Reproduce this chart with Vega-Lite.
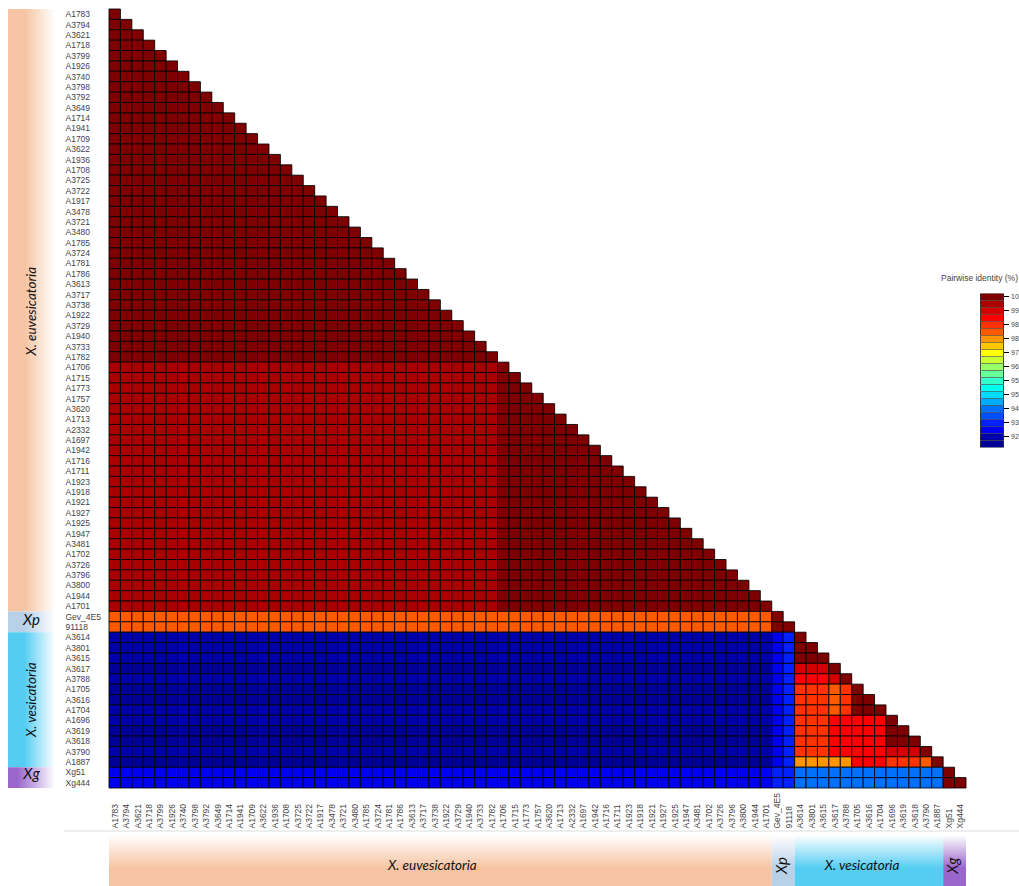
{"$schema":"https://vega.github.io/schema/vega-lite/v6.json","width":857,"height":779,"autosize":{"type":"none"},"padding":{"left":109,"top":9,"right":53,"bottom":98},"background":"white","config":{"view":{"stroke":null},"text":{"font":"Lato"}},
"datasets":{"rows":[
{"i":1,"y":"A1783","v":[100]},
{"i":2,"y":"A3794","v":[100,100]},
{"i":3,"y":"A3621","v":[100,100,100]},
{"i":4,"y":"A1718","v":[100,100,100,100]},
{"i":5,"y":"A3799","v":[100,100,100,100,100]},
{"i":6,"y":"A1926","v":[100,100,100,100,100,100]},
{"i":7,"y":"A3740","v":[100,100,100,100,100,100,100]},
{"i":8,"y":"A3798","v":[100,100,100,100,100,100,100,100]},
{"i":9,"y":"A3792","v":[100,100,100,100,100,100,100,100,100]},
{"i":10,"y":"A3649","v":[100,100,100,100,100,100,100,100,100,100]},
{"i":11,"y":"A1714","v":[100,100,100,100,100,100,100,100,100,100,100]},
{"i":12,"y":"A1941","v":[100,100,100,100,100,100,100,100,100,100,100,100]},
{"i":13,"y":"A1709","v":[100,100,100,100,100,100,100,100,100,100,100,100,100]},
{"i":14,"y":"A3622","v":[100,100,100,100,100,100,100,100,100,100,100,100,100,100]},
{"i":15,"y":"A1936","v":[100,100,100,100,100,100,100,100,100,100,100,100,100,100,100]},
{"i":16,"y":"A1708","v":[100,100,100,100,100,100,100,100,100,100,100,100,100,100,100,100]},
{"i":17,"y":"A3725","v":[100,100,100,100,100,100,100,100,100,100,100,100,100,100,100,100,100]},
{"i":18,"y":"A3722","v":[100,100,100,100,100,100,100,100,100,100,100,100,100,100,100,100,100,100]},
{"i":19,"y":"A1917","v":[100,100,100,100,100,100,100,100,100,100,100,100,100,100,100,100,100,100,100]},
{"i":20,"y":"A3478","v":[100,100,100,100,100,100,100,100,100,100,100,100,100,100,100,100,100,100,100,100]},
{"i":21,"y":"A3721","v":[100,100,100,100,100,100,100,100,100,100,100,100,100,100,100,100,100,100,100,100,100]},
{"i":22,"y":"A3480","v":[100,100,100,100,100,100,100,100,100,100,100,100,100,100,100,100,100,100,100,100,100,100]},
{"i":23,"y":"A1785","v":[100,100,100,100,100,100,100,100,100,100,100,100,100,100,100,100,100,100,100,100,100,100,100]},
{"i":24,"y":"A3724","v":[100,100,100,100,100,100,100,100,100,100,100,100,100,100,100,100,100,100,100,100,100,100,100,100]},
{"i":25,"y":"A1781","v":[100,100,100,100,100,100,100,100,100,100,100,100,100,100,100,100,100,100,100,100,100,100,100,100,100]},
{"i":26,"y":"A1786","v":[100,100,100,100,100,100,100,100,100,100,100,100,100,100,100,100,100,100,100,100,100,100,100,100,100,100]},
{"i":27,"y":"A3613","v":[100,100,100,100,100,100,100,100,100,100,100,100,100,100,100,100,100,100,100,100,100,100,100,100,100,100,100]},
{"i":28,"y":"A3717","v":[100,100,100,100,100,100,100,100,100,100,100,100,100,100,100,100,100,100,100,100,100,100,100,100,100,100,100,100]},
{"i":29,"y":"A3738","v":[100,100,100,100,100,100,100,100,100,100,100,100,100,100,100,100,100,100,100,100,100,100,100,100,100,100,100,100,100]},
{"i":30,"y":"A1922","v":[100,100,100,100,100,100,100,100,100,100,100,100,100,100,100,100,100,100,100,100,100,100,100,100,100,100,100,100,100,100]},
{"i":31,"y":"A3729","v":[100,100,100,100,100,100,100,100,100,100,100,100,100,100,100,100,100,100,100,100,100,100,100,100,100,100,100,100,100,100,100]},
{"i":32,"y":"A1940","v":[100,100,100,100,100,100,100,100,100,100,100,100,100,100,100,100,100,100,100,100,100,100,100,100,100,100,100,100,100,100,100,100]},
{"i":33,"y":"A3733","v":[100,100,100,100,100,100,100,100,100,100,100,100,100,100,100,100,100,100,100,100,100,100,100,100,100,100,100,100,100,100,100,100,100]},
{"i":34,"y":"A1782","v":[100,100,100,100,100,100,100,100,100,100,100,100,100,100,100,100,100,100,100,100,100,100,100,100,100,100,100,100,100,100,100,100,100,100]},
{"i":35,"y":"A1706","v":[99.6,99.6,99.6,99.6,99.6,99.6,99.6,99.6,99.6,99.6,99.6,99.6,99.6,99.6,99.6,99.6,99.6,99.6,99.6,99.6,99.6,99.6,99.6,99.6,99.6,99.6,99.6,99.6,99.6,99.6,99.6,99.6,99.6,99.6,100]},
{"i":36,"y":"A1715","v":[99.6,99.6,99.6,99.6,99.6,99.6,99.6,99.6,99.6,99.6,99.6,99.6,99.6,99.6,99.6,99.6,99.6,99.6,99.6,99.6,99.6,99.6,99.6,99.6,99.6,99.6,99.6,99.6,99.6,99.6,99.6,99.6,99.6,99.6,100,100]},
{"i":37,"y":"A1773","v":[99.6,99.6,99.6,99.6,99.6,99.6,99.6,99.6,99.6,99.6,99.6,99.6,99.6,99.6,99.6,99.6,99.6,99.6,99.6,99.6,99.6,99.6,99.6,99.6,99.6,99.6,99.6,99.6,99.6,99.6,99.6,99.6,99.6,99.6,100,100,100]},
{"i":38,"y":"A1757","v":[99.6,99.6,99.6,99.6,99.6,99.6,99.6,99.6,99.6,99.6,99.6,99.6,99.6,99.6,99.6,99.6,99.6,99.6,99.6,99.6,99.6,99.6,99.6,99.6,99.6,99.6,99.6,99.6,99.6,99.6,99.6,99.6,99.6,99.6,100,100,100,100]},
{"i":39,"y":"A3620","v":[99.6,99.6,99.6,99.6,99.6,99.6,99.6,99.6,99.6,99.6,99.6,99.6,99.6,99.6,99.6,99.6,99.6,99.6,99.6,99.6,99.6,99.6,99.6,99.6,99.6,99.6,99.6,99.6,99.6,99.6,99.6,99.6,99.6,99.6,100,100,100,100,100]},
{"i":40,"y":"A1713","v":[99.6,99.6,99.6,99.6,99.6,99.6,99.6,99.6,99.6,99.6,99.6,99.6,99.6,99.6,99.6,99.6,99.6,99.6,99.6,99.6,99.6,99.6,99.6,99.6,99.6,99.6,99.6,99.6,99.6,99.6,99.6,99.6,99.6,99.6,100,100,100,100,100,100]},
{"i":41,"y":"A2332","v":[99.6,99.6,99.6,99.6,99.6,99.6,99.6,99.6,99.6,99.6,99.6,99.6,99.6,99.6,99.6,99.6,99.6,99.6,99.6,99.6,99.6,99.6,99.6,99.6,99.6,99.6,99.6,99.6,99.6,99.6,99.6,99.6,99.6,99.6,100,100,100,100,100,100,100]},
{"i":42,"y":"A1697","v":[99.6,99.6,99.6,99.6,99.6,99.6,99.6,99.6,99.6,99.6,99.6,99.6,99.6,99.6,99.6,99.6,99.6,99.6,99.6,99.6,99.6,99.6,99.6,99.6,99.6,99.6,99.6,99.6,99.6,99.6,99.6,99.6,99.6,99.6,100,100,100,100,100,100,100,100]},
{"i":43,"y":"A1942","v":[99.6,99.6,99.6,99.6,99.6,99.6,99.6,99.6,99.6,99.6,99.6,99.6,99.6,99.6,99.6,99.6,99.6,99.6,99.6,99.6,99.6,99.6,99.6,99.6,99.6,99.6,99.6,99.6,99.6,99.6,99.6,99.6,99.6,99.6,100,100,100,100,100,100,100,100,100]},
{"i":44,"y":"A1716","v":[99.6,99.6,99.6,99.6,99.6,99.6,99.6,99.6,99.6,99.6,99.6,99.6,99.6,99.6,99.6,99.6,99.6,99.6,99.6,99.6,99.6,99.6,99.6,99.6,99.6,99.6,99.6,99.6,99.6,99.6,99.6,99.6,99.6,99.6,100,100,100,100,100,100,100,100,100,100]},
{"i":45,"y":"A1711","v":[99.6,99.6,99.6,99.6,99.6,99.6,99.6,99.6,99.6,99.6,99.6,99.6,99.6,99.6,99.6,99.6,99.6,99.6,99.6,99.6,99.6,99.6,99.6,99.6,99.6,99.6,99.6,99.6,99.6,99.6,99.6,99.6,99.6,99.6,100,100,100,100,100,100,100,100,100,100,100]},
{"i":46,"y":"A1923","v":[99.6,99.6,99.6,99.6,99.6,99.6,99.6,99.6,99.6,99.6,99.6,99.6,99.6,99.6,99.6,99.6,99.6,99.6,99.6,99.6,99.6,99.6,99.6,99.6,99.6,99.6,99.6,99.6,99.6,99.6,99.6,99.6,99.6,99.6,100,100,100,100,100,100,100,100,100,100,100,100]},
{"i":47,"y":"A1918","v":[99.6,99.6,99.6,99.6,99.6,99.6,99.6,99.6,99.6,99.6,99.6,99.6,99.6,99.6,99.6,99.6,99.6,99.6,99.6,99.6,99.6,99.6,99.6,99.6,99.6,99.6,99.6,99.6,99.6,99.6,99.6,99.6,99.6,99.6,100,100,100,100,100,100,100,100,100,100,100,100,100]},
{"i":48,"y":"A1921","v":[99.6,99.6,99.6,99.6,99.6,99.6,99.6,99.6,99.6,99.6,99.6,99.6,99.6,99.6,99.6,99.6,99.6,99.6,99.6,99.6,99.6,99.6,99.6,99.6,99.6,99.6,99.6,99.6,99.6,99.6,99.6,99.6,99.6,99.6,100,100,100,100,100,100,100,100,100,100,100,100,100,100]},
{"i":49,"y":"A1927","v":[99.6,99.6,99.6,99.6,99.6,99.6,99.6,99.6,99.6,99.6,99.6,99.6,99.6,99.6,99.6,99.6,99.6,99.6,99.6,99.6,99.6,99.6,99.6,99.6,99.6,99.6,99.6,99.6,99.6,99.6,99.6,99.6,99.6,99.6,100,100,100,100,100,100,100,100,100,100,100,100,100,100,100]},
{"i":50,"y":"A1925","v":[99.6,99.6,99.6,99.6,99.6,99.6,99.6,99.6,99.6,99.6,99.6,99.6,99.6,99.6,99.6,99.6,99.6,99.6,99.6,99.6,99.6,99.6,99.6,99.6,99.6,99.6,99.6,99.6,99.6,99.6,99.6,99.6,99.6,99.6,100,100,100,100,100,100,100,100,100,100,100,100,100,100,100,100]},
{"i":51,"y":"A1947","v":[99.6,99.6,99.6,99.6,99.6,99.6,99.6,99.6,99.6,99.6,99.6,99.6,99.6,99.6,99.6,99.6,99.6,99.6,99.6,99.6,99.6,99.6,99.6,99.6,99.6,99.6,99.6,99.6,99.6,99.6,99.6,99.6,99.6,99.6,100,100,100,100,100,100,100,100,100,100,100,100,100,100,100,100,100]},
{"i":52,"y":"A3481","v":[99.6,99.6,99.6,99.6,99.6,99.6,99.6,99.6,99.6,99.6,99.6,99.6,99.6,99.6,99.6,99.6,99.6,99.6,99.6,99.6,99.6,99.6,99.6,99.6,99.6,99.6,99.6,99.6,99.6,99.6,99.6,99.6,99.6,99.6,100,100,100,100,100,100,100,100,100,100,100,100,100,100,100,100,100,100]},
{"i":53,"y":"A1702","v":[99.6,99.6,99.6,99.6,99.6,99.6,99.6,99.6,99.6,99.6,99.6,99.6,99.6,99.6,99.6,99.6,99.6,99.6,99.6,99.6,99.6,99.6,99.6,99.6,99.6,99.6,99.6,99.6,99.6,99.6,99.6,99.6,99.6,99.6,100,100,100,100,100,100,100,100,100,100,100,100,100,100,100,100,100,100,100]},
{"i":54,"y":"A3726","v":[99.6,99.6,99.6,99.6,99.6,99.6,99.6,99.6,99.6,99.6,99.6,99.6,99.6,99.6,99.6,99.6,99.6,99.6,99.6,99.6,99.6,99.6,99.6,99.6,99.6,99.6,99.6,99.6,99.6,99.6,99.6,99.6,99.6,99.6,100,100,100,100,100,100,100,100,100,100,100,100,100,100,100,100,100,100,100,100]},
{"i":55,"y":"A3796","v":[99.6,99.6,99.6,99.6,99.6,99.6,99.6,99.6,99.6,99.6,99.6,99.6,99.6,99.6,99.6,99.6,99.6,99.6,99.6,99.6,99.6,99.6,99.6,99.6,99.6,99.6,99.6,99.6,99.6,99.6,99.6,99.6,99.6,99.6,100,100,100,100,100,100,100,100,100,100,100,100,100,100,100,100,100,100,100,100,100]},
{"i":56,"y":"A3800","v":[99.6,99.6,99.6,99.6,99.6,99.6,99.6,99.6,99.6,99.6,99.6,99.6,99.6,99.6,99.6,99.6,99.6,99.6,99.6,99.6,99.6,99.6,99.6,99.6,99.6,99.6,99.6,99.6,99.6,99.6,99.6,99.6,99.6,99.6,100,100,100,100,100,100,100,100,100,100,100,100,100,100,100,100,100,100,100,100,100,100]},
{"i":57,"y":"A1944","v":[99.6,99.6,99.6,99.6,99.6,99.6,99.6,99.6,99.6,99.6,99.6,99.6,99.6,99.6,99.6,99.6,99.6,99.6,99.6,99.6,99.6,99.6,99.6,99.6,99.6,99.6,99.6,99.6,99.6,99.6,99.6,99.6,99.6,99.6,100,100,100,100,100,100,100,100,100,100,100,100,100,100,100,100,100,100,100,100,100,100,100]},
{"i":58,"y":"A1701","v":[99.6,99.6,99.6,99.6,99.6,99.6,99.6,99.6,99.6,99.6,99.6,99.6,99.6,99.6,99.6,99.6,99.6,99.6,99.6,99.6,99.6,99.6,99.6,99.6,99.6,99.6,99.6,99.6,99.6,99.6,99.6,99.6,99.6,99.6,100,100,100,100,100,100,100,100,100,100,100,100,100,100,100,100,100,100,100,100,100,100,100,100]},
{"i":59,"y":"Gev_4E5","v":[98,98,98,98,98,98,98,98,98,98,98,98,98,98,98,98,98,98,98,98,98,98,98,98,98,98,98,98,98,98,98,98,98,98,98,98,98,98,98,98,98,98,98,98,98,98,98,98,98,98,98,98,98,98,98,98,98,98,100]},
{"i":60,"y":"91118","v":[98,98,98,98,98,98,98,98,98,98,98,98,98,98,98,98,98,98,98,98,98,98,98,98,98,98,98,98,98,98,98,98,98,98,98,98,98,98,98,98,98,98,98,98,98,98,98,98,98,98,98,98,98,98,98,98,98,98,100,100]},
{"i":61,"y":"A3614","v":[92.2,92.2,92.2,92.2,92.2,92.2,92.2,92.2,92.2,92.2,92.2,92.2,92.2,92.2,92.2,92.2,92.2,92.2,92.2,92.2,92.2,92.2,92.2,92.2,92.2,92.2,92.2,92.2,92.2,92.2,92.2,92.2,92.2,92.2,92.2,92.2,92.2,92.2,92.2,92.2,92.2,92.2,92.2,92.2,92.2,92.2,92.2,92.2,92.2,92.2,92.2,92.2,92.2,92.2,92.2,92.2,92.2,92.2,92.6,92.9,100]},
{"i":62,"y":"A3801","v":[92.2,92.2,92.2,92.2,92.2,92.2,92.2,92.2,92.2,92.2,92.2,92.2,92.2,92.2,92.2,92.2,92.2,92.2,92.2,92.2,92.2,92.2,92.2,92.2,92.2,92.2,92.2,92.2,92.2,92.2,92.2,92.2,92.2,92.2,92.2,92.2,92.2,92.2,92.2,92.2,92.2,92.2,92.2,92.2,92.2,92.2,92.2,92.2,92.2,92.2,92.2,92.2,92.2,92.2,92.2,92.2,92.2,92.2,92.6,92.9,100,100]},
{"i":63,"y":"A3615","v":[92.2,92.2,92.2,92.2,92.2,92.2,92.2,92.2,92.2,92.2,92.2,92.2,92.2,92.2,92.2,92.2,92.2,92.2,92.2,92.2,92.2,92.2,92.2,92.2,92.2,92.2,92.2,92.2,92.2,92.2,92.2,92.2,92.2,92.2,92.2,92.2,92.2,92.2,92.2,92.2,92.2,92.2,92.2,92.2,92.2,92.2,92.2,92.2,92.2,92.2,92.2,92.2,92.2,92.2,92.2,92.2,92.2,92.2,92.6,92.9,100,100,100]},
{"i":64,"y":"A3617","v":[91.8,91.8,91.8,91.8,91.8,91.8,91.8,91.8,91.8,91.8,91.8,91.8,91.8,91.8,91.8,91.8,91.8,91.8,91.8,91.8,91.8,91.8,91.8,91.8,91.8,91.8,91.8,91.8,91.8,91.8,91.8,91.8,91.8,91.8,91.8,91.8,91.8,91.8,91.8,91.8,91.8,91.8,91.8,91.8,91.8,91.8,91.8,91.8,91.8,91.8,91.8,91.8,91.8,91.8,91.8,91.8,91.8,91.8,92.6,92.9,99.2,99.2,99.2,100]},
{"i":65,"y":"A3788","v":[92.2,92.2,92.2,92.2,92.2,92.2,92.2,92.2,92.2,92.2,92.2,92.2,92.2,92.2,92.2,92.2,92.2,92.2,92.2,92.2,92.2,92.2,92.2,92.2,92.2,92.2,92.2,92.2,92.2,92.2,92.2,92.2,92.2,92.2,92.2,92.2,92.2,92.2,92.2,92.2,92.2,92.2,92.2,92.2,92.2,92.2,92.2,92.2,92.2,92.2,92.2,92.2,92.2,92.2,92.2,92.2,92.2,92.2,92.6,92.9,98.8,98.8,98.8,99.2,100]},
{"i":66,"y":"A1705","v":[91.8,91.8,91.8,91.8,91.8,91.8,91.8,91.8,91.8,91.8,91.8,91.8,91.8,91.8,91.8,91.8,91.8,91.8,91.8,91.8,91.8,91.8,91.8,91.8,91.8,91.8,91.8,91.8,91.8,91.8,91.8,91.8,91.8,91.8,91.8,91.8,91.8,91.8,91.8,91.8,91.8,91.8,91.8,91.8,91.8,91.8,91.8,91.8,91.8,91.8,91.8,91.8,91.8,91.8,91.8,91.8,91.8,91.8,92.6,92.9,98.4,98.4,98.4,98,98.4,100]},
{"i":67,"y":"A3616","v":[91.8,91.8,91.8,91.8,91.8,91.8,91.8,91.8,91.8,91.8,91.8,91.8,91.8,91.8,91.8,91.8,91.8,91.8,91.8,91.8,91.8,91.8,91.8,91.8,91.8,91.8,91.8,91.8,91.8,91.8,91.8,91.8,91.8,91.8,91.8,91.8,91.8,91.8,91.8,91.8,91.8,91.8,91.8,91.8,91.8,91.8,91.8,91.8,91.8,91.8,91.8,91.8,91.8,91.8,91.8,91.8,91.8,91.8,92.6,92.9,98.4,98.4,98.4,98,98.4,100,100]},
{"i":68,"y":"A1704","v":[92.2,92.2,92.2,92.2,92.2,92.2,92.2,92.2,92.2,92.2,92.2,92.2,92.2,92.2,92.2,92.2,92.2,92.2,92.2,92.2,92.2,92.2,92.2,92.2,92.2,92.2,92.2,92.2,92.2,92.2,92.2,92.2,92.2,92.2,92.2,92.2,92.2,92.2,92.2,92.2,92.2,92.2,92.2,92.2,92.2,92.2,92.2,92.2,92.2,92.2,92.2,92.2,92.2,92.2,92.2,92.2,92.2,92.2,92.6,92.9,98.4,98.4,98.4,98,98.4,100,100,100]},
{"i":69,"y":"A1696","v":[92.2,92.2,92.2,92.2,92.2,92.2,92.2,92.2,92.2,92.2,92.2,92.2,92.2,92.2,92.2,92.2,92.2,92.2,92.2,92.2,92.2,92.2,92.2,92.2,92.2,92.2,92.2,92.2,92.2,92.2,92.2,92.2,92.2,92.2,92.2,92.2,92.2,92.2,92.2,92.2,92.2,92.2,92.2,92.2,92.2,92.2,92.2,92.2,92.2,92.2,92.2,92.2,92.2,92.2,92.2,92.2,92.2,92.2,92.6,92.9,98.4,98.4,98.4,98.8,98.8,98.8,98.8,98.8,100]},
{"i":70,"y":"A3619","v":[91.8,91.8,91.8,91.8,91.8,91.8,91.8,91.8,91.8,91.8,91.8,91.8,91.8,91.8,91.8,91.8,91.8,91.8,91.8,91.8,91.8,91.8,91.8,91.8,91.8,91.8,91.8,91.8,91.8,91.8,91.8,91.8,91.8,91.8,91.8,91.8,91.8,91.8,91.8,91.8,91.8,91.8,91.8,91.8,91.8,91.8,91.8,91.8,91.8,91.8,91.8,91.8,91.8,91.8,91.8,91.8,91.8,91.8,92.6,92.9,98.4,98.4,98.4,98.8,98.8,98.8,98.8,98.8,100,100]},
{"i":71,"y":"A3618","v":[91.8,91.8,91.8,91.8,91.8,91.8,91.8,91.8,91.8,91.8,91.8,91.8,91.8,91.8,91.8,91.8,91.8,91.8,91.8,91.8,91.8,91.8,91.8,91.8,91.8,91.8,91.8,91.8,91.8,91.8,91.8,91.8,91.8,91.8,91.8,91.8,91.8,91.8,91.8,91.8,91.8,91.8,91.8,91.8,91.8,91.8,91.8,91.8,91.8,91.8,91.8,91.8,91.8,91.8,91.8,91.8,91.8,91.8,92.6,92.9,98.4,98.4,98.4,98.8,98.8,98.8,98.8,98.8,100,100,100]},
{"i":72,"y":"A3790","v":[92.2,92.2,92.2,92.2,92.2,92.2,92.2,92.2,92.2,92.2,92.2,92.2,92.2,92.2,92.2,92.2,92.2,92.2,92.2,92.2,92.2,92.2,92.2,92.2,92.2,92.2,92.2,92.2,92.2,92.2,92.2,92.2,92.2,92.2,92.2,92.2,92.2,92.2,92.2,92.2,92.2,92.2,92.2,92.2,92.2,92.2,92.2,92.2,92.2,92.2,92.2,92.2,92.2,92.2,92.2,92.2,92.2,92.2,92.6,92.9,98.4,98.4,98.4,98.8,98.8,98.8,98.8,98.8,99.2,99.2,99.2,100]},
{"i":73,"y":"A1887","v":[91.8,91.8,91.8,91.8,91.8,91.8,91.8,91.8,91.8,91.8,91.8,91.8,91.8,91.8,91.8,91.8,91.8,91.8,91.8,91.8,91.8,91.8,91.8,91.8,91.8,91.8,91.8,91.8,91.8,91.8,91.8,91.8,91.8,91.8,91.8,91.8,91.8,91.8,91.8,91.8,91.8,91.8,91.8,91.8,91.8,91.8,91.8,91.8,91.8,91.8,91.8,91.8,91.8,91.8,91.8,91.8,91.8,91.8,92.6,92.9,97.6,97.6,97.6,97.6,97.6,98.8,98.8,98.8,98.4,98.4,98.4,98,100]},
{"i":74,"y":"Xg51","v":[92.6,92.6,92.6,92.6,92.6,92.6,92.6,92.6,92.6,92.6,92.6,92.6,92.6,92.6,92.6,92.6,92.6,92.6,92.6,92.6,92.6,92.6,92.6,92.6,92.6,92.6,92.6,92.6,92.6,92.6,92.6,92.6,92.6,92.6,92.6,92.6,92.6,92.6,92.6,92.6,92.6,92.6,92.6,92.6,92.6,92.6,92.6,92.6,92.6,92.6,92.6,92.6,92.6,92.6,92.6,92.6,92.6,92.6,92.9,92.9,93.7,93.7,93.7,93.7,93.7,93.7,93.7,93.7,93.7,93.7,93.7,93.7,93.7,100]},
{"i":75,"y":"Xg444","v":[92.6,92.6,92.6,92.6,92.6,92.6,92.6,92.6,92.6,92.6,92.6,92.6,92.6,92.6,92.6,92.6,92.6,92.6,92.6,92.6,92.6,92.6,92.6,92.6,92.6,92.6,92.6,92.6,92.6,92.6,92.6,92.6,92.6,92.6,92.6,92.6,92.6,92.6,92.6,92.6,92.6,92.6,92.6,92.6,92.6,92.6,92.6,92.6,92.6,92.6,92.6,92.6,92.6,92.6,92.6,92.6,92.6,92.6,92.9,92.9,93.7,93.7,93.7,93.7,93.7,93.7,93.7,93.7,93.7,93.7,93.7,93.7,93.7,100,100]}
]},
"resolve":{"scale":{"x":"independent","y":"independent","color":"independent"},"axis":{"x":"independent","y":"independent"}},
"layer":[
{"data":{"values":[{"from":0,"to":58}]},"mark":{"type":"rect","fill":{"gradient":"linear","x1":0,"y1":0,"x2":1,"y2":0,"stops":[{"offset":0,"color":"#f6c4a2"},{"offset":0.35,"color":"#f6c4a2"},{"offset":1,"color":"#ffffff"}]}},"encoding":{"y":{"field":"from","type":"quantitative","scale":{"domain":[0,75],"reverse":true,"nice":false},"axis":null},"y2":{"field":"to"},"x":{"datum":0,"type":"quantitative","scale":{"domain":[0,1],"range":[-101,-54]},"axis":null},"x2":{"datum":1}}},
{"data":{"values":[{"from":58,"to":60}]},"mark":{"type":"rect","fill":{"gradient":"linear","x1":0,"y1":0,"x2":1,"y2":0,"stops":[{"offset":0,"color":"#b8d0e8"},{"offset":0.35,"color":"#b8d0e8"},{"offset":1,"color":"#ffffff"}]}},"encoding":{"y":{"field":"from","type":"quantitative","scale":{"domain":[0,75],"reverse":true,"nice":false},"axis":null},"y2":{"field":"to"},"x":{"datum":0,"type":"quantitative","scale":{"domain":[0,1],"range":[-101,-54]},"axis":null},"x2":{"datum":1}}},
{"data":{"values":[{"from":60,"to":73}]},"mark":{"type":"rect","fill":{"gradient":"linear","x1":0,"y1":0,"x2":1,"y2":0,"stops":[{"offset":0,"color":"#55cdf3"},{"offset":0.35,"color":"#55cdf3"},{"offset":1,"color":"#ffffff"}]}},"encoding":{"y":{"field":"from","type":"quantitative","scale":{"domain":[0,75],"reverse":true,"nice":false},"axis":null},"y2":{"field":"to"},"x":{"datum":0,"type":"quantitative","scale":{"domain":[0,1],"range":[-101,-54]},"axis":null},"x2":{"datum":1}}},
{"data":{"values":[{"from":73,"to":75}]},"mark":{"type":"rect","fill":{"gradient":"linear","x1":0,"y1":0,"x2":1,"y2":0,"stops":[{"offset":0,"color":"#9a66cc"},{"offset":0.2,"color":"#9a66cc"},{"offset":1,"color":"#ffffff"}]}},"encoding":{"y":{"field":"from","type":"quantitative","scale":{"domain":[0,75],"reverse":true,"nice":false},"axis":null},"y2":{"field":"to"},"x":{"datum":0,"type":"quantitative","scale":{"domain":[0,1],"range":[-101,-54]},"axis":null},"x2":{"datum":1}}},
{"data":{"values":[{"from":0,"to":58}]},"mark":{"type":"rect","fill":{"gradient":"linear","x1":0,"y1":0,"x2":0,"y2":1,"stops":[{"offset":0,"color":"#ffffff"},{"offset":0.65,"color":"#f6c4a2"},{"offset":1,"color":"#f6c4a2"}]}},"encoding":{"x":{"field":"from","type":"quantitative","scale":{"domain":[0,75],"nice":false},"axis":null},"x2":{"field":"to"},"y":{"datum":0,"type":"quantitative","scale":{"domain":[0,1],"range":[826,877]},"axis":null},"y2":{"datum":1}}},
{"data":{"values":[{"from":58,"to":60}]},"mark":{"type":"rect","fill":{"gradient":"linear","x1":0,"y1":0,"x2":0,"y2":1,"stops":[{"offset":0,"color":"#ffffff"},{"offset":0.65,"color":"#b8d0e8"},{"offset":1,"color":"#b8d0e8"}]}},"encoding":{"x":{"field":"from","type":"quantitative","scale":{"domain":[0,75],"nice":false},"axis":null},"x2":{"field":"to"},"y":{"datum":0,"type":"quantitative","scale":{"domain":[0,1],"range":[826,877]},"axis":null},"y2":{"datum":1}}},
{"data":{"values":[{"from":60,"to":73}]},"mark":{"type":"rect","fill":{"gradient":"linear","x1":0,"y1":0,"x2":0,"y2":1,"stops":[{"offset":0,"color":"#ffffff"},{"offset":0.65,"color":"#55cdf3"},{"offset":1,"color":"#55cdf3"}]}},"encoding":{"x":{"field":"from","type":"quantitative","scale":{"domain":[0,75],"nice":false},"axis":null},"x2":{"field":"to"},"y":{"datum":0,"type":"quantitative","scale":{"domain":[0,1],"range":[826,877]},"axis":null},"y2":{"datum":1}}},
{"data":{"values":[{"from":73,"to":75}]},"mark":{"type":"rect","fill":{"gradient":"linear","x1":0,"y1":0,"x2":0,"y2":1,"stops":[{"offset":0,"color":"#ffffff"},{"offset":0.65,"color":"#9a66cc"},{"offset":1,"color":"#9a66cc"}]}},"encoding":{"x":{"field":"from","type":"quantitative","scale":{"domain":[0,75],"nice":false},"axis":null},"x2":{"field":"to"},"y":{"datum":0,"type":"quantitative","scale":{"domain":[0,1],"range":[826,877]},"axis":null},"y2":{"datum":1}}},
{"data":{"values":[{"k":"divider"}]},"mark":{"type":"rule","color":"#eeeeee","strokeWidth":2},"encoding":{"x":{"datum":0,"type":"quantitative","scale":{"domain":[0,1],"range":[-45,910]},"axis":null},"x2":{"datum":1},"y":{"datum":0,"type":"quantitative","scale":{"domain":[0,1],"range":[822,823]},"axis":null}}},
{"data":{"values":[{"t":100},{"t":99.2},{"t":98.4},{"t":97.6},{"t":96.8},{"t":96},{"t":95.2},{"t":94.5},{"t":93.7},{"t":92.9},{"t":92.2}]},"mark":{"type":"rule","color":"#000000","strokeWidth":1},"encoding":{"x":{"datum":0,"type":"quantitative","scale":{"domain":[0,1],"range":[895,900]},"axis":null},"x2":{"datum":1},"y":{"field":"t","type":"ordinal","scale":{"domain":[100,99.6,99.2,98.8,98.4,98,97.6,97.2,96.8,96.4,96,95.6,95.2,94.9,94.5,94.1,93.7,93.3,92.9,92.6,92.2,91.8],"range":[284,438],"paddingInner":0,"paddingOuter":0},"axis":null}}},
{"data":{"values":[{"group":"X. euvesicatoria","mid":29.1},{"group":"X. vesicatoria","mid":66.5}]},"mark":{"type":"text","angle":270,"font":"Lato","fontStyle":"italic","fontSize":13.5,"color":"#111111"},"encoding":{"text":{"field":"group"},"y":{"field":"mid","type":"quantitative","scale":{"domain":[0,75],"reverse":true,"nice":false},"axis":null},"x":{"datum":0.5,"type":"quantitative","scale":{"domain":[0,1],"range":[-101,-54]},"axis":null}}},
{"data":{"values":[{"group":"Xp","mid":58.8},{"group":"Xg","mid":73.7}]},"mark":{"type":"text","font":"Lato","fontStyle":"italic","fontSize":15,"color":"#111111"},"encoding":{"text":{"field":"group"},"y":{"field":"mid","type":"quantitative","scale":{"domain":[0,75],"reverse":true,"nice":false},"axis":null},"x":{"datum":0.5,"type":"quantitative","scale":{"domain":[0,1],"range":[-101,-54]},"axis":null}}},
{"data":{"values":[{"group":"X. euvesicatoria","mid":28.3},{"group":"X. vesicatoria","mid":65.9}]},"mark":{"type":"text","font":"Lato","fontStyle":"italic","fontSize":13.5,"color":"#111111"},"encoding":{"text":{"field":"group"},"x":{"field":"mid","type":"quantitative","scale":{"domain":[0,75],"nice":false},"axis":null},"y":{"datum":0.6,"type":"quantitative","scale":{"domain":[0,1],"range":[826,877]},"axis":null}}},
{"data":{"values":[{"group":"Xp","mid":58.9},{"group":"Xg","mid":73.9}]},"mark":{"type":"text","angle":270,"font":"Lato","fontStyle":"italic","fontSize":15,"color":"#111111"},"encoding":{"text":{"field":"group"},"x":{"field":"mid","type":"quantitative","scale":{"domain":[0,75],"nice":false},"axis":null},"y":{"datum":0.6,"type":"quantitative","scale":{"domain":[0,1],"range":[826,877]},"axis":null}}},
{"data":{"name":"rows"},"transform":[{"flatten":["v"]},{"window":[{"op":"row_number","as":"col"}],"groupby":["y"]},{"lookup":"col","from":{"data":{"name":"rows"},"key":"i","fields":["y"]},"as":["x"]}],
"mark":{"type":"rect","stroke":"#000000","strokeWidth":1,"strokeOpacity":0.85},
"encoding":{
"x":{"field":"x","type":"nominal","sort":null,"title":null,"scale":{"paddingInner":0,"paddingOuter":0},"axis":{"orient":"bottom","domain":false,"ticks":false,"labelAngle":270,"labelAlign":"left","labelBaseline":"middle","labelPadding":40,"labelFont":"Liberation Sans","labelFontSize":8.5,"labelColor":"#444444","labelOverlap":false,"grid":false}},
"y":{"field":"y","type":"nominal","sort":null,"title":null,"scale":{"paddingInner":0,"paddingOuter":0},"axis":{"orient":"left","domain":false,"ticks":false,"labelAlign":"left","labelPadding":44,"labelFont":"Liberation Sans","labelFontSize":8.5,"labelColor":"#444444","labelOverlap":false,"grid":false}},
"fill":{"field":"v","type":"ordinal","scale":{"domain":[100,99.6,99.2,98.8,98.4,98,97.6,97.2,96.8,96.4,96,95.6,95.2,94.9,94.5,94.1,93.7,93.3,92.9,92.6,92.2,91.8],"range":["#7f0000","#aa0000","#d40000","#ff0000","#ff3300","#ff5a00","#ff9500","#ffc800","#ffff00","#ccff33","#99ff66","#66ff99","#33ffcc","#00ffee","#00ddff","#00aaff","#0070ff","#0050ff","#0020ff","#0000f0","#0000aa","#000098"]},
"legend":{"title":"Pairwise identity (%)","orient":"none","legendX":832,"legendY":265,"padding":0,"titleFont":"Liberation Sans","titleFontSize":8.5,"titleFontWeight":"normal","titleColor":"#444444","titleLimit":200,"titlePadding":11,"symbolType":"M-1,-0.313H1V0.313H-1Z","symbolSize":529,"symbolOffset":39,"symbolStrokeColor":"#000000","symbolStrokeWidth":0.7,"clipHeight":6.9,"rowPadding":-3.6,"columns":1,"labelFont":"Liberation Sans","labelFontSize":7,"labelColor":"#444444","labelOffset":7,"labelOverlap":false,"labelExpr":"indexof([100,99.2,98.4,97.6,96.8,96,95.2,94.5,93.7,92.9,92.2],datum.value)<0?'':format(round(datum.value),'d')"}}
}}
]}
